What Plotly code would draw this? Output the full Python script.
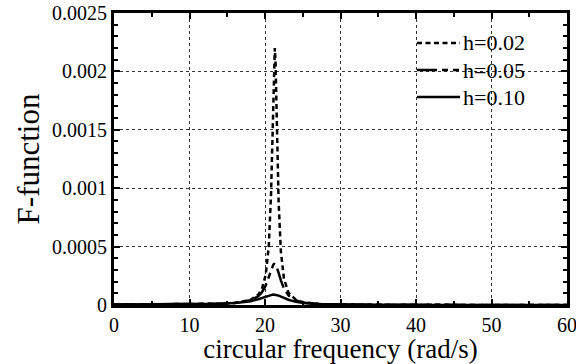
import plotly.graph_objects as go

# circular frequency (rad/s)
omega = [0, 5, 10, 14.1, 16.1, 18.1, 19.1, 19.6, 20.1, 20.5, 20.8, 21.0, 21.1, 21.2, 21.3,
         21.4, 21.5, 21.6, 21.8, 22.1, 22.5, 23.1, 24.1, 25.1, 27.1, 30, 35, 40, 50, 60]

f_h002 = [3.5e-6, 3.9e-6, 5.8e-6, 1.1e-5, 1.9e-5, 4.45e-5, 8.8e-5, 1.41e-4, 2.60e-4,
          5.05e-4, 9.5e-4, 1.50e-3, 1.83e-3, 2.10e-3, 2.20e-3, 2.07e-3, 1.77e-3,
          1.43e-3, 8.9e-4, 4.6e-4, 2.3e-4, 1.06e-4, 4.3e-5, 2.3e-5, 9.1e-6, 3.5e-6,
          1.2e-6, 5.4e-7, 1.7e-7, 7e-8]

f_h005 = [3.5e-6, 3.9e-6, 5.8e-6, 1.09e-5, 1.84e-5, 4.14e-5, 7.5e-5, 1.10e-4, 1.68e-4,
          2.39e-4, 3.01e-4, 3.35e-4, 3.46e-4, 3.52e-4, 3.52e-4, 3.46e-4, 3.34e-4,
          3.17e-4, 2.76e-4, 2.11e-4, 1.42e-4, 8.2e-5, 3.8e-5, 2.1e-5, 8.7e-6, 3.4e-6,
          1.2e-6, 5.3e-7, 1.7e-7, 7e-8]

f_h010 = [3.5e-6, 3.9e-6, 5.7e-6, 1.05e-5, 1.69e-5, 3.3e-5, 4.97e-5, 6.1e-5, 7.4e-5,
          8.3e-5, 8.7e-5, 8.87e-5, 8.89e-5, 8.86e-5, 8.8e-5, 8.7e-5, 8.56e-5,
          8.4e-5, 8.0e-5, 7.2e-5, 6.05e-5, 4.5e-5, 2.7e-5, 1.7e-5, 7.8e-6, 3.2e-6,
          1.1e-6, 5.3e-7, 1.7e-7, 7e-8]

series_names = ["h=0.02", "h=0.05", "h=0.10"]

x_tickvals = [0, 10, 20, 30, 40, 50, 60]
x_ticktext = ["0", "10", "20", "30", "40", "50", "60"]
y_tickvals = [0, 0.0005, 0.001, 0.0015, 0.002, 0.0025]
y_ticktext = ["0", "0.0005", "0.001", "0.0015", "0.002", "0.0025"]

FONT = "Liberation Serif"
dashes = ["5px,3.5px", "20px,5px,6px,5px,6px,5px", "solid"]

fig = go.Figure()
for name, ys, dash in zip(series_names, [f_h002, f_h005, f_h010], dashes):
    fig.add_trace(go.Scatter(x=omega, y=ys, mode="lines", name=name, showlegend=False,
                             line=dict(color="black", width=2.5, dash=dash)))

axis_common = dict(
    showline=True, linecolor="black", linewidth=3, mirror="allticks",
    ticks="inside", ticklen=6, tickwidth=2, tickcolor="black",
    showgrid=True, gridcolor="#333333", gridwidth=1, griddash="dot",
    zeroline=False, automargin=False,
    tickfont=dict(family=FONT, size=20, color="black"),
)

fig.update_xaxes(range=[0, 60], tickvals=x_tickvals, ticktext=x_ticktext,
                 ticklabeloverflow="allow",
                 minor=dict(ticks="inside", dtick=5, ticklen=4, tickwidth=2, tickcolor="black", showgrid=False),
                 title=dict(text="circular frequency (rad/s)", font=dict(family=FONT, size=27, color="black"),
                            standoff=2),
                 **axis_common)
fig.update_yaxes(range=[0, 0.0025], tickvals=y_tickvals, ticktext=y_ticktext,
                 minor=dict(ticks="inside", dtick=0.0001, ticklen=4, tickwidth=2, tickcolor="black", showgrid=False),
                 title=dict(text="F-function", font=dict(family=FONT, size=31, color="black"),
                            standoff=4),
                 **axis_common)

# legend box (drawn manually to match spacing)
L = 114.0; W = 453.0; T = 13.0; H = 292.0
def px(x):
    return (x - L) / W
def py(y):
    return 1 - (y - T) / H

shapes = [dict(type="rect", xref="paper", yref="paper", x0=px(405), x1=px(542), y0=py(116), y1=py(24),
               fillcolor="white", line=dict(width=0), layer="between")]
annotations = []
rows = [43, 70, 97]
for name, dash, ry in zip(series_names, dashes, rows):
    shapes.append(dict(type="line", xref="paper", yref="paper", x0=px(417), x1=px(460), y0=py(ry), y1=py(ry),
                       line=dict(color="black", width=2.5, dash=dash), layer="above"))
    annotations.append(dict(text=name, xref="paper", yref="paper", x=px(461), y=py(ry), xanchor="left",
                            yanchor="middle", showarrow=False, font=dict(family=FONT, size=22, color="black")))

fig.update_layout(
    width=576, height=364,
    margin=dict(l=114, r=9, t=13, b=59),
    paper_bgcolor="white", plot_bgcolor="white",
    showlegend=False,
    shapes=shapes, annotations=annotations,
)

fig.write_html("out.html")
